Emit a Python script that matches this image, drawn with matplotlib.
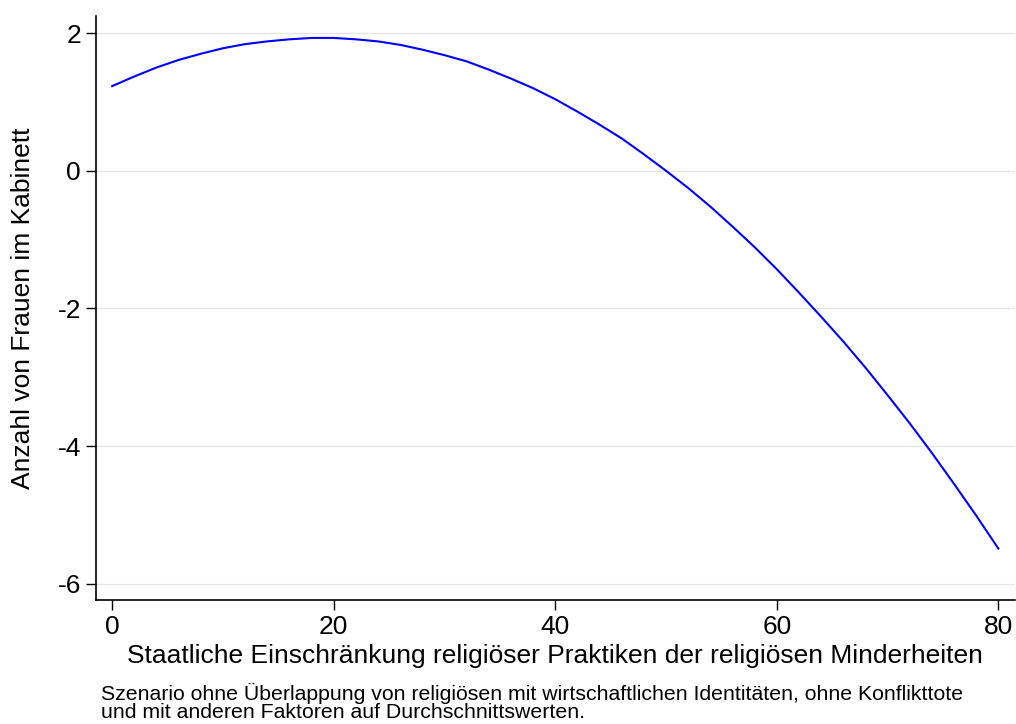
import matplotlib.pyplot as plt

plt.rcParams['font.family'] = ['Liberation Sans', 'DejaVu Sans']

# values, every 2 units
restriction = [0, 2, 4, 6, 8, 10, 12, 14, 16, 18, 20, 22, 24, 26, 28, 30, 32, 34, 36, 38,
               40, 42, 44, 46, 48, 50, 52, 54, 56, 58, 60, 62, 64, 66, 68, 70, 72, 74, 76, 78, 80]
women_cabinet = [1.23, 1.37, 1.50, 1.61, 1.70, 1.78, 1.84, 1.88, 1.91, 1.93,
                 1.93, 1.91, 1.88, 1.83, 1.76, 1.68, 1.59, 1.47, 1.34, 1.20,
                 1.04, 0.86, 0.67, 0.47, 0.24, 0.00, -0.25, -0.52, -0.81, -1.11,
                 -1.43, -1.77, -2.12, -2.48, -2.86, -3.26, -3.67, -4.10, -4.55, -5.01, -5.49]

x_ticks = [0, 20, 40, 60, 80]
y_ticks = [-6, -4, -2, 0, 2]

x_label = 'Staatliche Einschränkung religiöser Praktiken der religiösen Minderheiten'
y_label = 'Anzahl von Frauen im Kabinett'
note_lines = ['Szenario ohne Überlappung von religiösen mit wirtschaftlichen Identitäten, ohne Konflikttote',
              'und mit anderen Faktoren auf Durchschnittswerten.']

fig = plt.figure(figsize=(10.16, 7.24), dpi=100)
ax = fig.add_axes([0.094, 0.171, 0.905, 0.807])

ax.plot(restriction, women_cabinet, color='#0000ff', lw=1.5)

ax.set_xlim(-1.5, 81.5)
ax.set_ylim(-6.24, 2.25)
ax.set_xticks(x_ticks)
ax.set_yticks(y_ticks)
ax.set_yticklabels([str(t) for t in y_ticks])
ax.grid(axis='y', color='#e6e6e6', lw=1.0)
ax.set_axisbelow(True)

for s in ['top', 'right']:
    ax.spines[s].set_visible(False)
for s in ['left', 'bottom']:
    ax.spines[s].set_linewidth(1.2)
ax.tick_params(direction='out', length=7.5, width=1.0, labelsize=19, pad=3)

ax.set_xlabel(x_label, fontsize=19, labelpad=4)
ax.set_ylabel(y_label, fontsize=19, labelpad=16)

# note below the plot, tight line spacing like the original
fig.text(0.099, 0.0083, '\n'.join(note_lines), fontsize=15.3, va='baseline',
         linespacing=0.95)

fig.savefig('out.png', dpi=100)
